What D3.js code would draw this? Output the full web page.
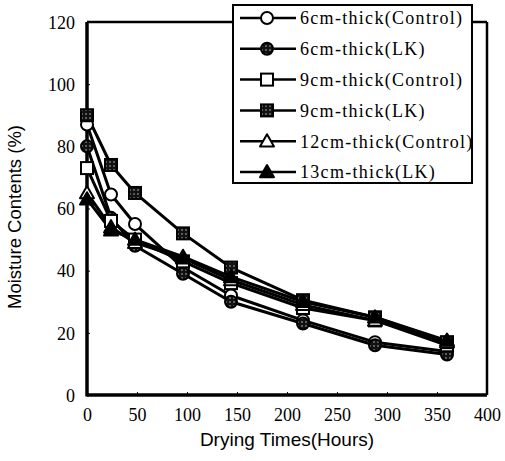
<!DOCTYPE html>
<html><head><meta charset="utf-8">
<script src="https://cdn.jsdelivr.net/npm/d3@7"></script>
<style>body{margin:0;background:#fff}svg{display:block}
.serif{font-family:"Liberation Serif","Times New Roman","DejaVu Serif",serif}
.sans{font-family:"Liberation Sans",Arial,Helvetica,sans-serif}
</style>
</head><body>
<script>
const hours = [0, 24, 48, 96, 144, 216, 288, 360];
const seriesNames = ["6cm-thick(Control)", "6cm-thick(LK)", "9cm-thick(Control)", "9cm-thick(LK)", "12cm-thick(Control)", "13cm-thick(LK)"];
const ctrl6 = [87, 64.5, 55, 41, 32, 24, 17, 14];
const lk6 = [80, 57, 48, 39, 30, 23, 16, 13];
const ctrl9 = [73, 56, 50, 43, 36, 28, 24, 16];
const lk9 = [90, 74, 65, 52, 41, 30.5, 25, 17];
const ctrl12 = [65, 54, 49, 44, 37, 29, 24, 17];
const lk13 = [63, 53, 50, 44.5, 38, 30, 25, 17.5];
const seriesValues = [ctrl6, lk6, ctrl9, lk9, ctrl12, lk13];
const markerTypes = ["circleOpen", "circleHatch", "squareOpen", "squareHatch", "triOpen", "triFilled"];
const xTicks = [0, 50, 100, 150, 200, 250, 300, 350, 400];
const yTicks = [0, 20, 40, 60, 80, 100, 120];
const xTitle = "Drying Times(Hours)";
const yTitle = "Moisture Contents (%)";

const W = 505, H = 461;
const svg = d3.select("body").append("svg").attr("width", W).attr("height", H);
const defs = svg.append("defs");
const pat = defs.append("pattern").attr("id", "hatch").attr("patternUnits", "userSpaceOnUse")
  .attr("width", 4).attr("height", 4);
pat.append("rect").attr("width", 4).attr("height", 4).attr("fill", "#111");
pat.append("circle").attr("cx", 2).attr("cy", 2).attr("r", 0.8).attr("fill", "#bbb");

const x = d3.scaleLinear().domain([0, 400]).range([87, 487]);
const y = d3.scaleLinear().domain([0, 120]).range([395, 22]);

// axes (ticks inward)
const gx = svg.append("g").attr("transform", `translate(0,${y(0)})`)
  .call(d3.axisBottom(x).tickValues(xTicks).tickSize(-3).tickPadding(10).tickFormat(d3.format("d")));
const gy = svg.append("g").attr("transform", `translate(${x(0)},0)`)
  .call(d3.axisLeft(y).tickValues(yTicks).tickSize(-3).tickPadding(12).tickFormat(d3.format("d")));
[gx, gy].forEach(g => {
  g.attr("font-family", null).attr("font-size", null);
  g.select(".domain").remove();
  g.selectAll(".tick line").attr("stroke", "#000").attr("stroke-width", 1);
  g.selectAll(".tick text").attr("class", "serif").style("font-size", "18px").attr("fill", "#000");
});
gx.selectAll(".tick text").attr("dy", "0.9em");
gy.selectAll(".tick text").attr("dy", "0.35em");

// frame
svg.append("line").attr("x1", x(0)).attr("x2", x(0)).attr("y1", y(120)).attr("y2", y(0) + 1.5)
  .attr("stroke", "#000").attr("stroke-width", 3.5);
svg.append("line").attr("x1", x(0)).attr("x2", x(400)).attr("y1", y(0)).attr("y2", y(0))
  .attr("stroke", "#000").attr("stroke-width", 3.5);
svg.append("line").attr("x1", x(400)).attr("x2", x(400)).attr("y1", y(120)).attr("y2", y(0))
  .attr("stroke", "#000").attr("stroke-width", 2.5);
svg.append("line").attr("x1", x(0)).attr("x2", x(400)).attr("y1", y(120)).attr("y2", y(120))
  .attr("stroke", "#000").attr("stroke-width", 2.5);

function drawMarker(g, type, cx, cy) {
  const s = 6;
  if (type.startsWith("circle")) {
    g.append("circle").attr("cx", cx).attr("cy", cy).attr("r", s)
      .attr("fill", type === "circleOpen" ? "#fff" : "url(#hatch)").attr("stroke", "#000").attr("stroke-width", 2);
  } else if (type.startsWith("square")) {
    g.append("rect").attr("x", cx - s).attr("y", cy - s).attr("width", 2 * s).attr("height", 2 * s)
      .attr("fill", type === "squareOpen" ? "#fff" : "url(#hatch)").attr("stroke", "#000").attr("stroke-width", 2);
  } else {
    const t = 7;
    const pts = [[cx, cy - t], [cx + t, cy + t * 0.75], [cx - t, cy + t * 0.75]];
    g.append("polygon").attr("points", pts.map(p => p.join(",")).join(" "))
      .attr("fill", type === "triOpen" ? "#fff" : "#000").attr("stroke", "#000").attr("stroke-width", 2).attr("stroke-linejoin", "round");
  }
}

const line = d3.line().x((d, i) => x(hours[i])).y(d => y(d));
const plot = svg.append("g");
seriesValues.forEach((vals) => {
  plot.append("path").datum(vals).attr("d", line).attr("fill", "none")
    .attr("stroke", "#000").attr("stroke-width", 3).attr("stroke-linejoin", "round");
});
seriesValues.forEach((vals, si) => {
  const g = plot.append("g");
  vals.forEach((v, i) => drawMarker(g, markerTypes[si], x(hours[i]), y(v)));
});

// legend
const lg = svg.append("g");
lg.append("rect").attr("x", 233).attr("y", 5).attr("width", 239).attr("height", 178)
  .attr("fill", "#fff").attr("stroke", "#000").attr("stroke-width", 2);
seriesNames.forEach((name, i) => {
  const cy = 18 + i * 30.8;
  lg.append("line").attr("x1", 240).attr("x2", 296).attr("y1", cy).attr("y2", cy)
    .attr("stroke", "#000").attr("stroke-width", 2.5);
  drawMarker(lg, markerTypes[i], 267, cy);
  lg.append("text").attr("class", "serif").attr("x", 300).attr("y", cy).attr("dy", "0.35em")
    .style("font-size", "18px").style("letter-spacing", "1.3px")
    .attr("fill", "#000").text(name);
});

// axis titles
svg.append("text").attr("class", "sans").attr("x", 287).attr("y", 446).attr("text-anchor", "middle")
  .style("font-size", "19px").attr("fill", "#000").text(xTitle);
svg.append("text").attr("class", "sans").attr("transform", "translate(21,217) rotate(-90)").attr("text-anchor", "middle")
  .style("font-size", "18.5px").attr("fill", "#000").text(yTitle);
</script>
</body></html>
